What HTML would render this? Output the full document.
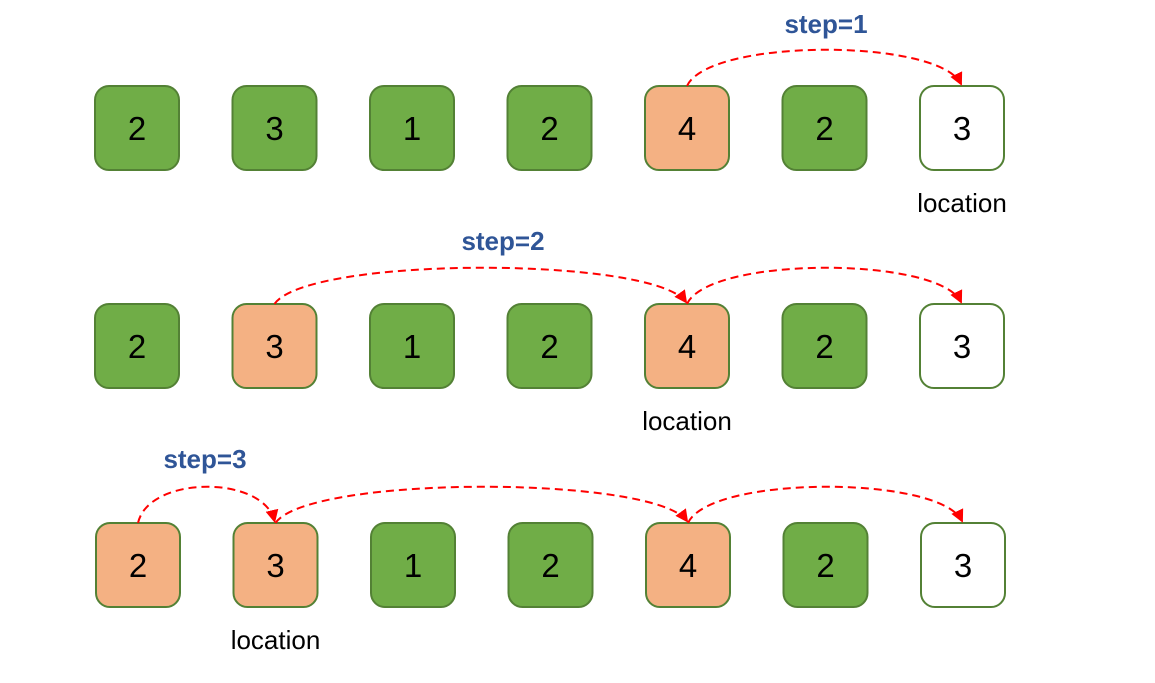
<!DOCTYPE html>
<html><head><meta charset="utf-8"><style>
body{margin:0;background:#fff;}
svg{display:block;font-family:"Liberation Sans","DejaVu Sans",sans-serif;}
</style></head><body>
<svg id="c" width="1155" height="683" xmlns="http://www.w3.org/2000/svg">
<defs><marker id="ah" markerWidth="13" markerHeight="13" refX="11" refY="6.5" orient="auto" markerUnits="userSpaceOnUse"><path d="M0,0 L13,6.5 L0,13 z" fill="#ff0000"/></marker></defs>
</svg>
<script>
const values = [2,3,1,2,4,2,3];
const rowX0 = [95,95,96];
const rowY0 = [86,304,523];
const highlights = [[4],[1,4],[0,1,4]];
const arrows = [[[4,6]],[[1,4],[4,6]],[[0,1],[1,4],[4,6]]];
const arcPeaks = [[50],[268,268],[487,487,487]];
const locations = [6,4,1];
const stepLabels = ["step=1","step=2","step=3"];
const stepPos = [[826,33],[503,250],[205,468]];
const W=84, H=84, GAP=137.5;
const svg=document.getElementById('c');
const NS='http://www.w3.org/2000/svg';
function mk(t,a){const e=document.createElementNS(NS,t);for(const k in a)e.setAttribute(k,a[k]);svg.appendChild(e);return e;}
function bx(r,i){return rowX0[r]+i*GAP;}
for(let r=0;r<3;r++){
  for(let i=0;i<values.length;i++){
    const fill = i===values.length-1 ? '#ffffff' : (highlights[r].includes(i)?'#f4b183':'#70ad47');
    const rect=mk('rect',{x:bx(r,i),y:rowY0[r],width:W,height:H,rx:14,fill:fill,stroke:'#538135','stroke-width':2});
    
    
    const t=mk('text',{x:bx(r,i)+W/2,y:rowY0[r]+H/2+12,'text-anchor':'middle','font-size':33,fill:'#000'});
    t.textContent=values[i];
    
    
  }
  arrows[r].forEach((a,k)=>{
    const x1=bx(r,a[0])+W/2, x2=bx(r,a[1])+W/2-1, y=rowY0[r], y2=y-2;
    const c=y-(y-arcPeaks[r][k])/0.75, w=x2-x1;
    const p=mk('path',{d:`M${x1},${y} C${x1+0.08*w},${c} ${x2-0.08*w},${c} ${x2},${y2}`,fill:'none',stroke:'#ff0000','stroke-width':2,'stroke-dasharray':'8,5','marker-end':'url(#ah)'});
    
    
  });
  const s=mk('text',{x:stepPos[r][0],y:stepPos[r][1],'text-anchor':'middle','font-size':26,'font-weight':'bold',fill:'#2f5597'});
  s.textContent=stepLabels[r];
  
  
  const l=mk('text',{x:bx(r,locations[r])+W/2,y:rowY0[r]+H+42,'text-anchor':'middle','font-size':26,fill:'#000'});
  l.textContent='location';
  
  
}
</script>
</body></html>
